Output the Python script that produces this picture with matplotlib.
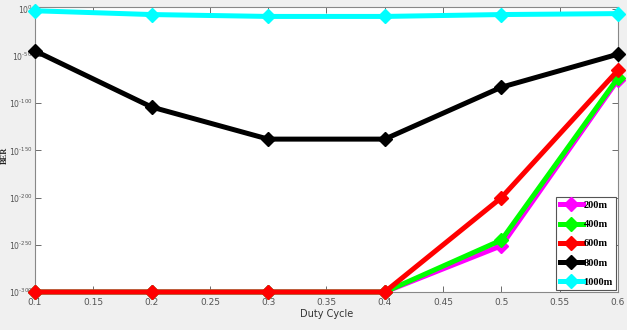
import matplotlib
matplotlib.use("Agg")
import matplotlib.pyplot as plt
import numpy as np

duty = [0.1, 0.2, 0.3, 0.4, 0.5, 0.6]
labels = ["200m", "400m", "600m", "800m", "1000m"]
colors = ["#ff00ff", "#00ff00", "#ff0000", "#000000", "#00ffff"]
# exponents of BER (log10)
exp_200 = [-300, -300, -300, -300, -251, -75]
exp_400 = [-300, -300, -300, -300, -245, -73]
exp_600 = [-300, -300, -300, -300, -200, -65]
exp_800 = [-44.5, -104, -138, -138, -83, -48]
exp_1000 = [-2, -6, -8, -8, -6, -5]
series = [exp_200, exp_400, exp_600, exp_800, exp_1000]

xticks = [0.1, 0.15, 0.2, 0.25, 0.3, 0.35, 0.4, 0.45, 0.5, 0.55, 0.6]
xticklabels = ["0.1", "0.15", "0.2", "0.25", "0.3", "0.35", "0.4", "0.45", "0.5", "0.55", "0.6"]
yexp_ticks = [0, -50, -100, -150, -200, -250, -300]

plt.rcParams["mathtext.default"] = "regular"

fig = plt.figure(figsize=(6.27, 3.30), dpi=100, facecolor="#f0f0f0")
ax = fig.add_axes([35/627, (330-292)/330, (618-35)/627, (292-7)/330])
ax.set_facecolor("white")

for lab, col, ex in zip(labels, colors, series):
    vals = [10.0**e for e in ex]
    ax.semilogy(duty, vals, color=col, lw=3.6, marker="D", ms=7,
                label=lab, clip_on=False, zorder=3)

ax.set_xlim(0.1, 0.6)
ax.set_ylim(1e-300, 1e2)
ax.set_xticks(xticks)
ax.set_xticklabels(xticklabels)
ax.set_yticks([10.0**e for e in yexp_ticks])
ylabels = []
for e in yexp_ticks:
    s = str(e).replace("-", "\u2010")
    ylabels.append(r"$10^{" + s + "}$")
ax.set_yticklabels(ylabels)
ax.minorticks_off()
ax.yaxis.set_minor_locator(matplotlib.ticker.NullLocator())
ax.tick_params(direction="in", top=True, right=True, length=4, width=0.6,
               colors="#555555", labelsize=6.5, pad=2)
ax.tick_params(axis="y", labelsize=5.6, pad=1.5)
ax.tick_params(axis="x", pad=4.5)
for s in ax.spines.values():
    s.set_color("#888888")
    s.set_linewidth(0.8)

ax.set_xlabel("Duty Cycle", fontsize=7, color="#333333", labelpad=1)
ax.set_ylabel("BER", fontsize=6, fontweight="bold", family="Liberation Serif",
              color="#222222", va="center")
ax.yaxis.set_label_coords(-0.052, 0.48)

leg = ax.legend(loc="lower right", prop={"family": "Liberation Serif", "weight": "bold", "size": 7.5},
                frameon=True, fancybox=False, edgecolor="#555555", borderpad=0.35,
                labelspacing=0.95, handlelength=2.2, handletextpad=0.1,
                borderaxespad=0.15, framealpha=1)
leg.get_frame().set_linewidth(0.8)

fig.savefig("out.png", dpi=100, facecolor=fig.get_facecolor())
